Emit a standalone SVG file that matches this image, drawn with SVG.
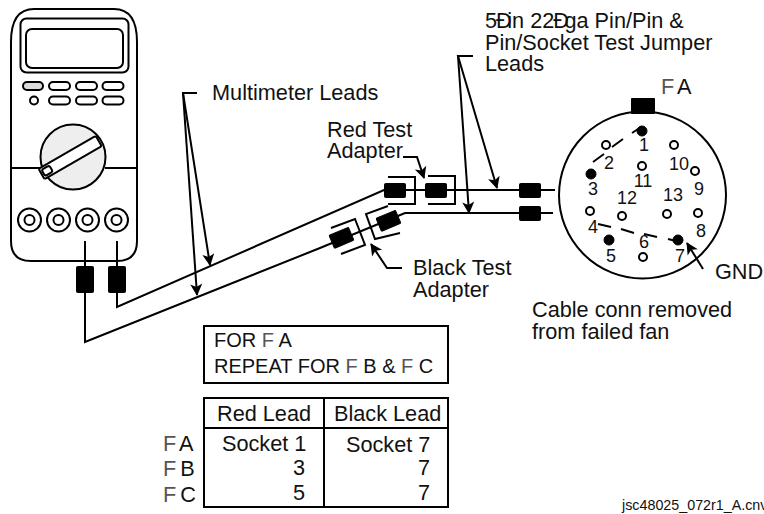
<svg xmlns="http://www.w3.org/2000/svg" width="764" height="514" viewBox="0 0 764 514">
<style>
text{font-family:"Liberation Sans",Arial,sans-serif;font-size:21.7px;fill:#111}
.n{font-size:18px;text-anchor:middle}
.s{font-size:20px}
.f{fill:#555;font-weight:normal}
.l{fill:none;stroke:#000;stroke-width:2}
.w{fill:#fff;stroke:#000;stroke-width:2}
.b{fill:#000;stroke:#000;stroke-width:1;stroke-linejoin:round}
.t{fill:none;stroke:#000;stroke-width:2;marker-end:url(#a)}
</style>
<defs>
<marker id="a" viewBox="0 0 12 16" refX="11" refY="8" markerWidth="14" markerHeight="16" markerUnits="userSpaceOnUse" orient="auto"><path d="M0 2L12 8L0 14L3 8Z" fill="#000"/></marker>
</defs>
<rect width="764" height="514" fill="#fff"/>
<g id="multimeter">
<path class="l" d="M11 42Q11 9 34 9H114Q137 9 137 42V241Q137 261 117 261H31Q11 261 11 241Z"/>
<rect class="l" x="20.500" y="18.500" width="108" height="54" rx="6"/>
<rect class="l" x="26" y="29" width="97" height="39" rx="6"/>
<rect class="l" x="23" y="82" width="20" height="8" rx="4" style="fill:#ddd"/>
<rect class="l" x="49" y="82" width="21" height="8" rx="4"/>
<rect class="l" x="76" y="82" width="21" height="8" rx="4"/>
<rect class="l" x="102.500" y="82" width="21" height="8" rx="4"/>
<circle class="l" cx="34" cy="100.500" r="4"/>
<rect class="l" x="49" y="96.500" width="21" height="8" rx="4"/>
<rect class="l" x="76" y="96.500" width="21" height="8" rx="4"/>
<rect class="l" x="102.500" y="96.500" width="21" height="8" rx="4"/>
<path class="l" d="M12 168H41M105 168H136"/>
<circle cx="73" cy="157" r="32.500" fill="#eee" stroke="#000" stroke-width="2"/>
<g transform="rotate(-30 71 157)"><rect class="w" x="37" y="151" width="66" height="12" rx="2"/><rect class="l" x="39" y="153.500" width="9" height="7" rx="2"/></g>
<g class="l"><circle cx="29.500" cy="220" r="11.500"/><circle cx="29.500" cy="220" r="5"/><circle cx="58.500" cy="220" r="11.500"/><circle cx="58.500" cy="220" r="5"/><circle cx="87.500" cy="220" r="11.500"/><circle cx="87.500" cy="220" r="5"/><circle cx="116.500" cy="220" r="11.500"/><circle cx="116.500" cy="220" r="5"/></g>
</g>
<g id="connectors">
<path class="l" d="M85 241V342L320 248L405 213H553"/>
<path class="l" d="M117 241V307L384 190H555"/>
<path class="t" d="M473 56H458L497 188"/>
<path class="t" d="M458 56L469 213"/>
<path class="t" d="M197 93H183L210 265"/>
<path class="t" d="M183 93L197 295"/>
<path class="t" d="M403 157H417L424 178"/>
<path class="t" d="M402 268H387L371 244"/>
<path class="t" d="M703 269L687 243"/>
</g>
<g id="test-leads">
<rect class="b" x="76.500" y="266.500" width="17" height="26" rx="1"/>
<rect class="b" x="108.500" y="266.500" width="17" height="26" rx="1"/>
<rect class="b" x="384.500" y="183.500" width="21" height="14" rx="1"/>
<rect class="b" x="425.500" y="183.500" width="21" height="14" rx="1"/>
<rect class="b" x="519.500" y="183.500" width="21" height="14" rx="1"/>
<rect class="b" x="519.500" y="206.500" width="21" height="14" rx="1"/>
<rect class="b" x="378" y="214" width="21" height="14" rx="1" transform="rotate(-23 388 221)"/>
<rect class="b" x="331" y="231" width="21" height="14" rx="1" transform="rotate(-23 341 238)"/>
</g>
<g id="red-test-adapter">
<path class="l" d="M388 177H415V204H388M428 176H455V204H428"/>
<text x="327" y="137">Red Test</text>
<text x="327" y="158">Adapter</text>
</g>
<g id="black-test-adapter">
<path class="l" d="M400 233L375 239L366 214L388 206M331 228L355 219L365 245L341 254"/>
<text x="413" y="275">Black Test</text>
<text x="413" y="297">Adapter</text>
</g>
<g id="labels">
<text x="212" y="100">Multimeter Leads</text>
<text x="485" y="28" dx="0 -1 -4.500 0 0 0 0 -1 -4.500">5Ðin 22Ðga Pin/Pin &amp;</text>
<text x="485" y="50">Pin/Socket Test Jumper</text>
<text x="485" y="71">Leads</text>
<text x="532" y="317">Cable conn removed</text>
<text x="532" y="339">from failed fan</text>
<text x="622" y="510" style="font-size:14.300px">jsc48025_072r1_A.cnv</text>
</g>
<g id="fan-connector">
<rect class="b" x="631.500" y="98.500" width="23" height="15"/>
<circle class="l" cx="642.500" cy="195" r="83.500"/>
<text x="661" y="94" dx="0 0 -2"><tspan class="f">F</tspan> A</text>
<path class="l" d="M632 133L641 127M612 147L623 139M593 162L604 154M598 224L611 227M621 229L634 233M644 234L657 237M668 239L678 241.500"/>
<g class="b"><circle cx="642" cy="131" r="5"/><circle cx="591" cy="174" r="5"/><circle cx="609" cy="240" r="5"/><circle cx="678" cy="240" r="5"/></g>
<g class="w"><circle cx="606" cy="145" r="4"/><circle cx="590" cy="211" r="4"/><circle cx="643" cy="257" r="4"/><circle cx="698" cy="213" r="4"/><circle cx="695" cy="171" r="4"/><circle cx="674" cy="145" r="4"/><circle cx="642" cy="166" r="4"/><circle cx="622" cy="216" r="4"/><circle cx="667" cy="214" r="4"/></g>
<text class="n" x="644" y="151">1</text><text class="n" x="609" y="169">2</text><text class="n" x="593" y="195">3</text><text class="n" x="593" y="233">4</text><text class="n" x="611" y="262">5</text><text class="n" x="644" y="248">6</text><text class="n" x="680" y="262">7</text><text class="n" x="701" y="237">8</text><text class="n" x="699" y="195">9</text><text class="n" x="679" y="170">10</text><text class="n" x="643" y="187">11</text><text class="n" x="627" y="204">12</text><text class="n" x="673" y="201">13</text>
<text x="715" y="279">GND</text>
</g>
<g id="note-box">
<rect class="l" x="204" y="326" width="244" height="57"/>
<text class="s" x="214" y="347">FOR <tspan class="f">F</tspan> A</text>
<text class="s" x="214" y="373">REPEAT FOR <tspan class="f">F</tspan> B &amp; <tspan class="f">F</tspan> C</text>
</g>
<g id="lead-table">
<rect class="l" x="204" y="398" width="244" height="109"/>
<path class="l" d="M324 398V507M204 428H448"/>
<text x="217" y="421">Red Lead</text>
<text x="334" y="421">Black Lead</text>
<text x="222" y="451">Socket 1</text>
<text x="346" y="452">Socket 7</text>
<text x="293" y="475">3</text><text x="418" y="475">7</text>
<text x="293" y="500">5</text><text x="418" y="500">7</text>
<text x="163" y="451"><tspan class="f">F</tspan><tspan dx="-2"> A</tspan></text>
<text x="163" y="476"><tspan class="f">F</tspan><tspan dx="-2"> B</tspan></text>
<text x="163" y="502"><tspan class="f">F</tspan><tspan dx="-2"> C</tspan></text>
</g>
</svg>
